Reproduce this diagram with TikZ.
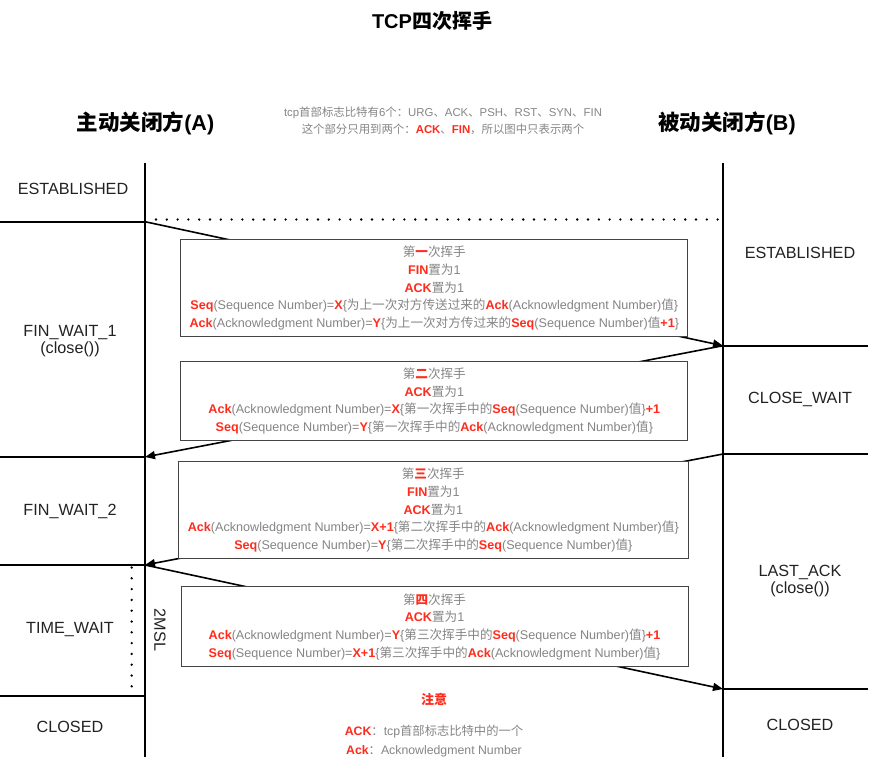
\documentclass[tikz,border=0pt]{standalone}
\usepackage{fontspec}
\setmainfont{Liberation Sans}
\newfontfamily\cjk{Noto Sans CJK SC}
\usetikzlibrary{arrows.meta}
\definecolor{redx}{HTML}{FF2B1C}
\definecolor{txtgray}{HTML}{858585}
\definecolor{boxgray}{HTML}{444444}
\definecolor{stategray}{HTML}{222222}
\newcommand\zh[1]{{\cjk #1}}
\newcommand\rd[1]{{\color{redx}\bfseries #1}}
\tikzset{
  life/.style={line width=1.6pt, black},
  msg/.style={line width=1.6pt, black, -{Triangle[length=10pt,width=8pt]}},
  msgbox/.style={draw=boxgray, line width=0.9pt, fill=white, inner sep=0pt,
    align=center, text=txtgray, font=\fontsize{12.6}{17.7}\selectfont},
  state/.style={align=center, text=stategray, font=\fontsize{16.2}{17.5}\selectfont},
  dots/.style={line width=2.6pt, line cap=round, dash pattern=on 0pt off 10.8pt},
}
\begin{document}
\begin{tikzpicture}[x=1pt,y=-1pt]
\useasboundingbox (0,0) rectangle (882,774);
% titles
\node (title) at (432,21) {\fontsize{20}{24}\selectfont\bfseries TCP\zh{四次挥手}};
\node (sideA) at (145.5,123) {\fontsize{21.5}{25}\selectfont\bfseries \zh{主动关闭方}(A)};
\node (sideB) at (727,123) {\fontsize{21.5}{25}\selectfont\bfseries \zh{被动关闭方}(B)};
\node[align=center, text=txtgray, font=\fontsize{11.4}{16.5}\selectfont] (hdr) at (443,121)
  {tcp\zh{首部标志比特有}6\zh{个：}URG\zh{、}ACK\zh{、}PSH\zh{、}RST\zh{、}SYN\zh{、}FIN\\
   \zh{这个部分只用到两个：}\rd{ACK}\zh{、}\rd{FIN}\zh{，所以图中只表示两个}};
% lifelines
\coordinate (Atop) at (145,163); \coordinate (Abot) at (145,757);
\coordinate (Btop) at (723,163); \coordinate (Bbot) at (723,757);
\draw[life] (Atop) -- (Abot);
\draw[life] (Btop) -- (Bbot);
% state separators
\coordinate (a1) at (145,221.7); \coordinate (a1l) at (0,221.7);
\coordinate (a2) at (145,457); \coordinate (a2l) at (0,457);
\coordinate (a3) at (145,565); \coordinate (a3l) at (0,565);
\coordinate (a4) at (145,695.7); \coordinate (a4l) at (0,695.7);
\coordinate (b1) at (723,345.7); \coordinate (b1r) at (868,345.7);
\coordinate (b2) at (723,454); \coordinate (b2r) at (868,454);
\coordinate (b3) at (723,689); \coordinate (b3r) at (868,689);
\foreach \p/\q in {a1/a1l,a2/a2l,a3/a3l,a4/a4l,b1/b1r,b2/b2r,b3/b3r}
  \draw[life] (\p) -- (\q);
% dotted lines
\coordinate (d1) at (156,219.5); \coordinate (d2) at (720,219.5);
\draw[dots] (d1) -- (d2);
\coordinate (t1) at (131.7,567.5); \coordinate (t2) at (131.7,690);
\draw[dots] (t1) -- (t2);
% messages
\draw[msg] (a1) -- (b1);
\draw[msg] (b1) -- (a2);
\draw[msg] (b2) -- (a3);
\draw[msg] (a3) -- (b3);
% boxes
\node[msgbox, minimum width=507pt, minimum height=97.5pt] (m1) at (434.3,288)
 {\zh{第}\rd{\zh{一}}\zh{次挥手}\\
  \rd{FIN}\zh{置为}1\\
  \rd{ACK}\zh{置为}1\\
  \rd{Seq}(Sequence Number)=\rd{X}\{\zh{为上一次对方传送过来的}\rd{Ack}(Acknowledgment Number)\zh{值}\}\\
  \rd{Ack}(Acknowledgment Number)=\rd{Y}\{\zh{为上一次对方传过来的}\rd{Seq}(Sequence Number)\zh{值}\rd{+1}\}};
\node[msgbox, minimum width=507pt, minimum height=79.7pt] (m2) at (434.3,400.9)
 {\zh{第}\rd{\zh{二}}\zh{次挥手}\\
  \rd{ACK}\zh{置为}1\\
  \rd{Ack}(Acknowledgment Number)=\rd{X}\{\zh{第一次挥手中的}\rd{Seq}(Sequence Number)\zh{值}\}\rd{+1}\\
  \rd{Seq}(Sequence Number)=\rd{Y}\{\zh{第一次挥手中的}\rd{Ack}(Acknowledgment Number)\zh{值}\}};
\node[msgbox, minimum width=510pt, minimum height=97pt] (m3) at (433.3,510.2)
 {\zh{第}\rd{\zh{三}}\zh{次挥手}\\
  \rd{FIN}\zh{置为}1\\
  \rd{ACK}\zh{置为}1\\
  \rd{Ack}(Acknowledgment Number)=\rd{X+1}\{\zh{第二次挥手中的}\rd{Ack}(Acknowledgment Number)\zh{值}\}\\
  \rd{Seq}(Sequence Number)=\rd{Y}\{\zh{第二次挥手中的}\rd{Seq}(Sequence Number)\zh{值}\}};
\node[msgbox, minimum width=507pt, minimum height=80pt] (m4) at (434.5,626.7)
 {\zh{第}\rd{\zh{四}}\zh{次挥手}\\
  \rd{ACK}\zh{置为}1\\
  \rd{Ack}(Acknowledgment Number)=\rd{Y}\{\zh{第三次挥手中的}\rd{Seq}(Sequence Number)\zh{值}\}\rd{+1}\\
  \rd{Seq}(Sequence Number)=\rd{X+1}\{\zh{第三次挥手中的}\rd{Ack}(Acknowledgment Number)\zh{值}\}};
% states A
\node[state] (sA1) at (73,189) {ESTABLISHED};
\node[state] (sA2) at (70,341) {FIN\_WAIT\_1\\(close())};
\node[state] (sA3) at (70,511) {FIN\_WAIT\_2};
\node[state] (sA4) at (70,630) {TIME\_WAIT};
\node[state] (sA5) at (70,727) {CLOSED};
\node[state, rotate=-90] (msl) at (160,630) {2MSL};
% states B
\node[state] (sB1) at (800,253) {ESTABLISHED};
\node[state] (sB2) at (800,399) {CLOSE\_WAIT};
\node[state] (sB3) at (800,581) {LAST\_ACK\\(close())};
\node[state] (sB4) at (800,725) {CLOSED};
% note
\node (note) at (434,699) {\fontsize{13}{16}\selectfont\rd{\zh{注意}}};
\node[align=center, text=txtgray, font=\fontsize{12.3}{19}\selectfont] (legend) at (434,741)
 {\rd{ACK}\zh{：}tcp\zh{首部标志比特中的一个}\\
  \rd{Ack}\zh{：}Acknowledgment Number};
\end{tikzpicture}
\end{document}
